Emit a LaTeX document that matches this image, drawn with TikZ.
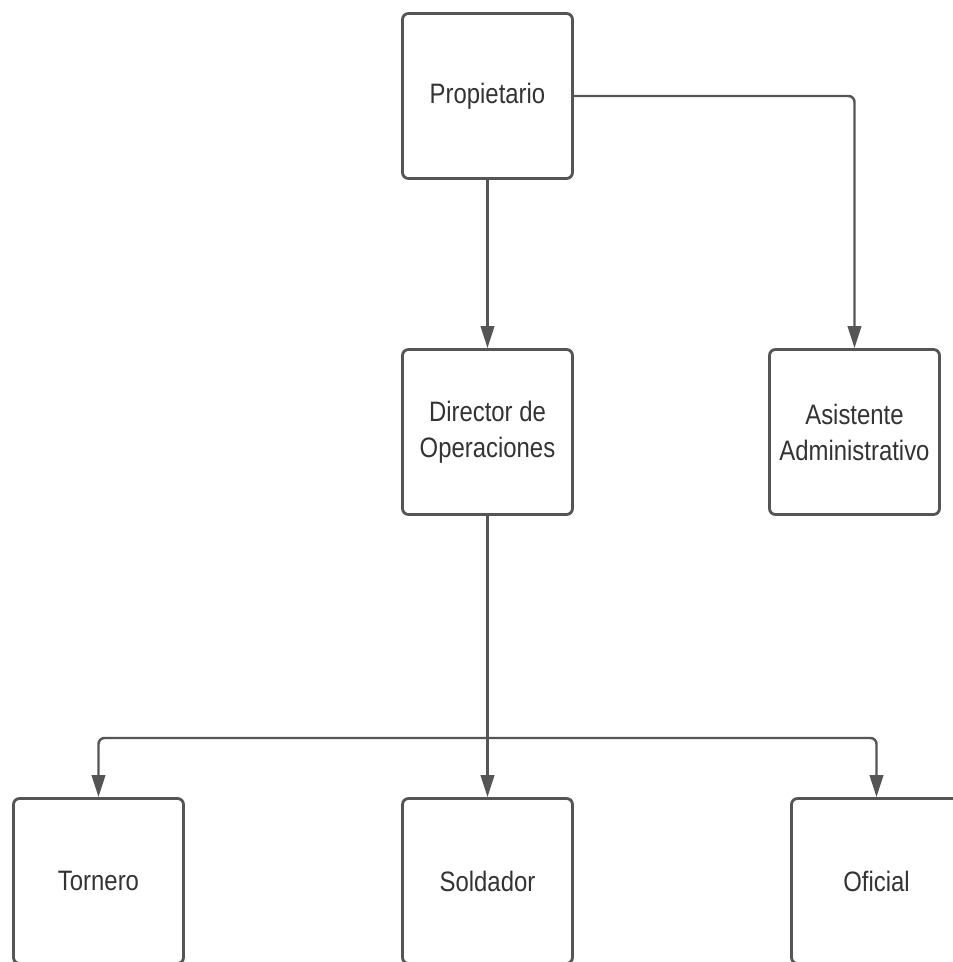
\documentclass[tikz,border=0pt]{standalone}
\usepackage{fontspec}
\setmainfont{Liberation Sans}[FakeStretch=0.85]
\usetikzlibrary{arrows.meta}
\definecolor{linegray}{HTML}{555555}
\definecolor{textgray}{HTML}{333333}
\tikzset{
  role/.style={draw=linegray, line width=1.6pt, rounded corners=0.12cm,
    minimum width=3.4cm, minimum height=3.3cm, align=center,
    text=textgray, font=\fontsize{16}{20.5}\selectfont},
  link/.style={draw=linegray, line width=1.4pt, rounded corners=0.12cm,
    -{Triangle[length=0.44cm, width=0.27cm]}}
}
\begin{document}
\begin{tikzpicture}
      \useasboundingbox (0,0) rectangle (19.06,-19.24);
      \draw
        (9.75,-1.92) node[role] (prop){Propietario}
        (9.75,-8.64) node[role] (dir){Director de\\Operaciones}
        (17.09,-8.64) node[role] (asis){Asistente\\Administrativo}
        (1.97,-17.62) node[role] (torn){Tornero}
        (9.75,-17.62) node[role] (sold){Soldador}
        (17.53,-17.62) node[role] (ofic){Oficial};
      \coordinate (split) at (9.75,-14.76);
      \begin{scope}[link]
        \draw (prop) to (dir);
        \draw (prop.east) -| (asis.north);
        \draw[-] (dir.south) to (split);
        \draw (split) -| (torn.north);
        \draw (split) to (sold.north);
        \draw (split) -| (ofic.north);
      \end{scope}
    \end{tikzpicture}
\end{document}
